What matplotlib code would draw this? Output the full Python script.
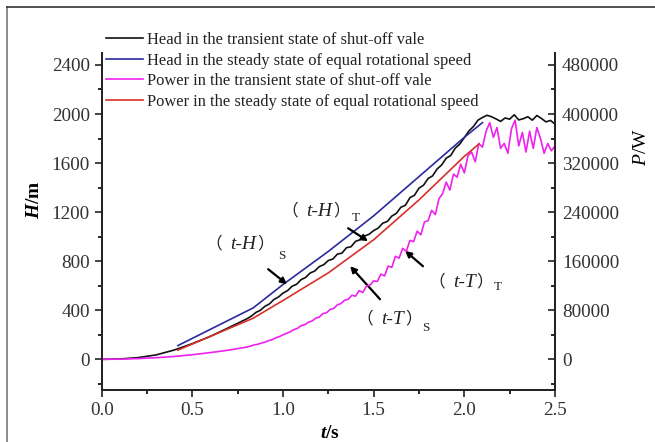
import matplotlib
matplotlib.use("Agg")
import matplotlib.pyplot as plt
from matplotlib.lines import Line2D
from matplotlib.ticker import MultipleLocator, FormatStrFormatter
from matplotlib.offsetbox import TextArea, HPacker, AnnotationBbox, DrawingArea

plt.rcParams["font.family"] = ["Liberation Serif", "Noto Sans CJK SC"]
plt.rcParams["mathtext.fontset"] = "custom"
plt.rcParams["mathtext.rm"] = "Liberation Serif"
plt.rcParams["mathtext.it"] = "Liberation Serif:italic"
plt.rcParams["mathtext.bf"] = "Liberation Serif:bold"
plt.rcParams["mathtext.bfit"] = "Liberation Serif:italic:bold"

# ---- data -------------------------------------------------------------
# head, transient state of shut-off valve (m)
t_head_tr = [0.0, 0.1, 0.2, 0.3, 0.4, 0.5, 0.6, 0.7,
             0.800, 0.825, 0.850, 0.875, 0.900, 0.925, 0.950, 0.975,
             1.000, 1.025, 1.050, 1.075, 1.100, 1.125, 1.150, 1.175,
             1.200, 1.225, 1.250, 1.275, 1.300, 1.325, 1.350, 1.375,
             1.400, 1.425, 1.450, 1.475, 1.500, 1.525, 1.550, 1.575,
             1.600, 1.625, 1.650, 1.675, 1.700, 1.725, 1.750, 1.775,
             1.800, 1.825, 1.850, 1.875, 1.900, 1.925, 1.950, 1.975,
             2.000, 2.025, 2.050, 2.075, 2.100, 2.125, 2.150, 2.175,
             2.200, 2.225, 2.250, 2.275, 2.300, 2.325, 2.350, 2.375,
             2.400, 2.425, 2.450, 2.475, 2.500]
head_tr = [0, 3, 14, 36, 76, 128, 188, 258,
           330, 352, 382, 400, 432, 452, 488, 508,
           540, 560, 596, 612, 650, 668, 704, 720,
           756, 772, 806, 818, 858, 866, 910, 918,
           962, 975, 1005, 1020, 1050, 1070, 1110, 1124,
           1168, 1190, 1240, 1256, 1318, 1338, 1396, 1420,
           1474, 1496, 1552, 1585, 1640, 1662, 1722, 1755,
           1808, 1862, 1898, 1950, 1972, 1990, 1978, 1960,
           1940, 1968, 1958, 1994, 1952, 1962, 1978, 1950,
           1988, 1964, 1936, 1948, 1918]

# head, steady state of equal rotational speed (m)
t_head_st = [0.42, 0.835, 1.0, 1.25, 1.5, 1.75, 2.0, 2.1]
head_st = [112, 419, 610, 880, 1170, 1490, 1810, 1930]

# power, transient state of shut-off valve (W)
t_pow_tr = [0.0, 0.1, 0.2, 0.3, 0.4, 0.5, 0.6, 0.7,
            0.80, 0.82, 0.84, 0.86, 0.88, 0.90, 0.92, 0.94, 0.96, 0.98,
            1.00, 1.02, 1.04, 1.06, 1.08, 1.10, 1.12, 1.14, 1.16, 1.18,
            1.20, 1.22, 1.24, 1.26, 1.28, 1.30, 1.32, 1.34, 1.36, 1.38,
            1.40, 1.42, 1.44, 1.46, 1.48, 1.50, 1.52, 1.54, 1.56, 1.58,
            1.60, 1.62, 1.64, 1.66, 1.68, 1.70, 1.72, 1.74, 1.76, 1.78,
            1.80, 1.82, 1.84, 1.86, 1.88, 1.90, 1.92, 1.94, 1.96, 1.98,
            2.00, 2.02, 2.04, 2.06, 2.08, 2.10, 2.12, 2.14, 2.16, 2.18,
            2.20, 2.22, 2.24, 2.26, 2.28, 2.30, 2.32, 2.34, 2.36, 2.38,
            2.40, 2.42, 2.44, 2.46, 2.48, 2.50]
pow_tr = [0, 300, 1200, 2700, 4700, 7500, 11000, 15000,
          20000, 21500, 23500, 24500, 26500, 28000, 30500, 32000, 35000, 37000,
          40000, 42500, 45000, 48500, 50500, 55000, 56500, 60500, 62500, 67000,
          69000, 74500, 76000, 81500, 83000, 89000, 91000, 96500, 98000, 104500,
          103000, 112000, 109000, 119500, 121000, 128000, 127000, 139000, 136000, 152000,
          150000, 168000, 165000, 181000, 176000, 194000, 192000, 209000, 203000, 224000,
          226000, 243000, 236000, 262000, 270000, 289000, 276000, 302000, 297000, 318000,
          304000, 332000, 338000, 322000, 352000, 346000, 372000, 386000, 362000, 378000,
          344000, 352000, 336000, 376000, 390000, 348000, 370000, 338000, 372000, 344000,
          378000, 360000, 336000, 352000, 340000, 348000]

# power, steady state of equal rotational speed (W)
t_pow_st = [0.42, 0.835, 1.0, 1.25, 1.5, 1.75, 2.0, 2.08]
pow_st = [15000, 67000, 96000, 141000, 195000, 260000, 331000, 351000]

labels = ["Head in the transient state of shut-off vale",
          "Head in the steady state of equal rotational speed",
          "Power in the transient state of shut-off vale",
          "Power in the steady state of equal rotational speed"]

# ---- figure -----------------------------------------------------------
W, H = 655, 442
fig = plt.figure(figsize=(W / 100, H / 100), dpi=100)
ax = fig.add_axes([101.7 / W, 1 - 390 / H, (555 - 101.7) / W, (390 - 52.7) / H])
ax2 = ax.twinx()

c_black, c_blue, c_mag, c_red = "#111111", "#2a2a9e", "#ee22ee", "#d8302a"
lw = 1.2
l1, = ax.plot(t_head_tr, head_tr, color=c_black, lw=lw)
l2, = ax.plot(t_head_st, head_st, color=c_blue, lw=lw)
l3, = ax2.plot(t_pow_tr, pow_tr, color=c_mag, lw=lw)
l4, = ax2.plot(t_pow_st, pow_st, color=c_red, lw=lw)

ax.set_xlim(0, 2.5)
ax.set_ylim(-250, 2500)
ax2.set_ylim(-50000, 500000)

for a in (ax, ax2):
    a.spines["top"].set_visible(False)
    for s in a.spines.values():
        s.set_linewidth(1.3)
        s.set_color("#222222")

ax.xaxis.set_major_locator(MultipleLocator(0.5))
ax.xaxis.set_minor_locator(MultipleLocator(0.25))
ax.yaxis.set_major_locator(MultipleLocator(400))
ax.yaxis.set_minor_locator(MultipleLocator(200))
ax2.yaxis.set_major_locator(MultipleLocator(80000))
ax2.yaxis.set_minor_locator(MultipleLocator(40000))
ax.xaxis.set_major_formatter(FormatStrFormatter("%.1f"))

tick_kw = dict(labelsize=13.8, labelcolor="#333333", color="#222222", width=1.2)
ax.tick_params(axis="x", which="major", direction="out", length=5, **tick_kw)
ax.tick_params(axis="x", which="minor", direction="out", length=3, width=1.2)
ax.tick_params(axis="y", which="major", direction="out", length=5, **tick_kw)
ax.tick_params(axis="y", which="minor", direction="out", length=3, width=1.2)
ax2.tick_params(axis="y", which="major", direction="in", length=5, pad=5, **tick_kw)
ax2.tick_params(axis="y", which="minor", direction="in", length=3, width=1.2)

ax.set_xlabel(r"$\mathbfit{t}\mathbf{/s}$", fontsize=14)
ax.set_ylabel(r"$\mathbfit{H}\mathbf{/m}$", fontsize=14)
ax2.set_ylabel(r"$\mathit{P}\mathrm{/W}$", fontsize=14)
ax.xaxis.set_label_coords(0.504, -0.104)
ax.yaxis.set_label_coords(-0.129, 0.564)
ax2.yaxis.set_label_coords(1.172, 0.72)

leg = fig.legend([l1, l2, l3, l4], labels, loc="upper left",
                 bbox_to_anchor=(106 / W, 1 - 32 / H), frameon=False,
                 fontsize=11.9, handlelength=2.25, handletextpad=0.25,
                 labelspacing=0.28, borderpad=0, borderaxespad=0)
for t in leg.get_texts():
    t.set_color("#222222")

# ---- curve annotations -----------------------------------------------
arrow_kw = dict(arrowstyle="-|>", color="black", lw=1.6,
                mutation_scale=9, shrinkA=0, shrinkB=0)
cjk = dict(family="Noto Sans CJK SC", fontsize=12, color="#222222")
ital = dict(family="Liberation Serif", style="italic", fontsize=14,
            color="#222222")
sub_font = dict(fontsize=9.5, color="#222222", family="Liberation Serif",
                va="center")

notes = [
    # quantity, subscript, label pos, subscript pos, arrow tail, arrow tip
    ("t-H", "S", (0.573, 939), (0.975, 841), (0.918, 735), (1.022, 612)),
    ("t-H", "T", (0.99, 1208), (1.381, 1151), (1.359, 1069), (1.469, 963)),
    ("t-T", "S", (1.405, 327), (1.767, 253), (1.535, 490), (1.37, 760)),
    ("t-T", "T", (1.80, 630), (2.165, 590), (1.772, 759), (1.673, 885)),
]
for qty, sub, tpos, spos, tail, tip in notes:
    box = HPacker(children=[TextArea("（", textprops=cjk),
                            DrawingArea(6, 1),
                            TextArea(qty, textprops=ital),
                            DrawingArea(0.5, 1),
                            TextArea("）", textprops=cjk)],
                  align="center", pad=0, sep=0)
    ab = AnnotationBbox(box, tpos, xycoords="data", box_alignment=(0, 0.5),
                        frameon=False, pad=0)
    ax.add_artist(ab)
    ax.text(*spos, sub, **sub_font)
    ax.annotate("", xy=tip, xytext=tail, arrowprops=arrow_kw)

# page frame lines (left and top)
fig.add_artist(Line2D([7 / W, 7 / W], [0, 1 - 7 / H], color="#777777", lw=1.2))
fig.add_artist(Line2D([7 / W, 1], [1 - 7 / H, 1 - 7 / H], color="#333333", lw=1.2))

fig.savefig("out.png", dpi=100)
